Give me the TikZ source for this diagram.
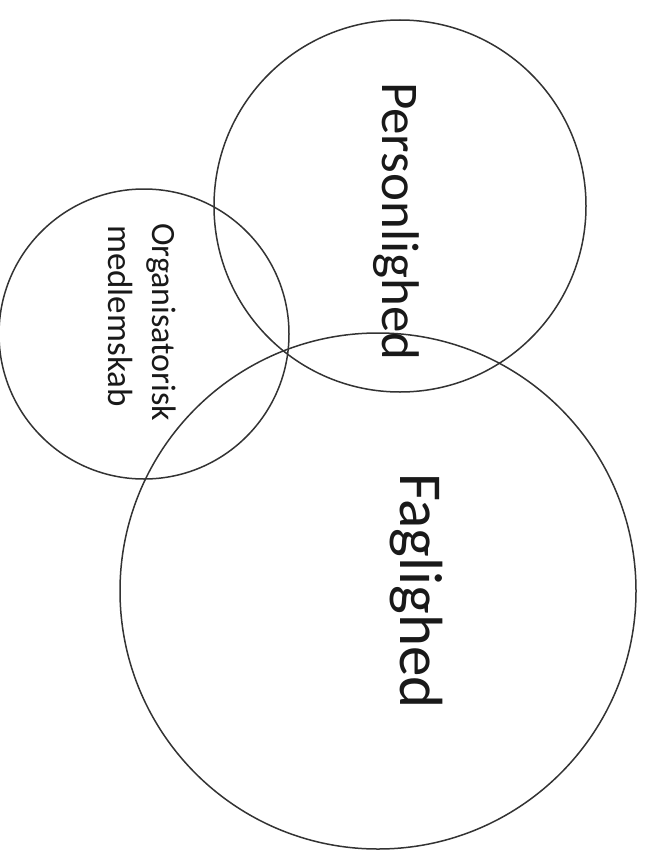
\documentclass[tikz,border=0pt]{standalone}
\usepackage{fontspec}
\setmainfont{Carlito}
\usetikzlibrary{shapes}
\usetikzlibrary{positioning}

\begin{document}
\begin{tikzpicture}[x=1pt,y=-1pt]
\tikzstyle{ring} = [circle, draw=black!80, line width=1.5pt, inner sep=0pt]
\tikzstyle{label} = [rotate=-90, anchor=base west, inner sep=0pt, text=black!90]
\useasboundingbox (0,0) rectangle (648,859);
% circles
\node [ring, minimum size=372pt] (personlighed) at (400,206) {};
\node [ring, minimum size=290pt] (organisation) at (144,334) {};
\node [ring, minimum size=516pt] (faglighed) at (378,591) {};
% texts
\node [label, font=\fontsize{53}{60}\selectfont] (perstext) at (382,82) {Personlighed};
\node [label, font=\fontsize{61}{70}\selectfont] (fagtext) at (400,473) {Faglighed};
\node [label, font=\fontsize{34}{40}\selectfont] (orgtext) at (152,223) {Organisatorisk};
\node [label, font=\fontsize{35}{40}\selectfont] (medtext) at (108,225) {medlemskab};
\end{tikzpicture}
\end{document}
